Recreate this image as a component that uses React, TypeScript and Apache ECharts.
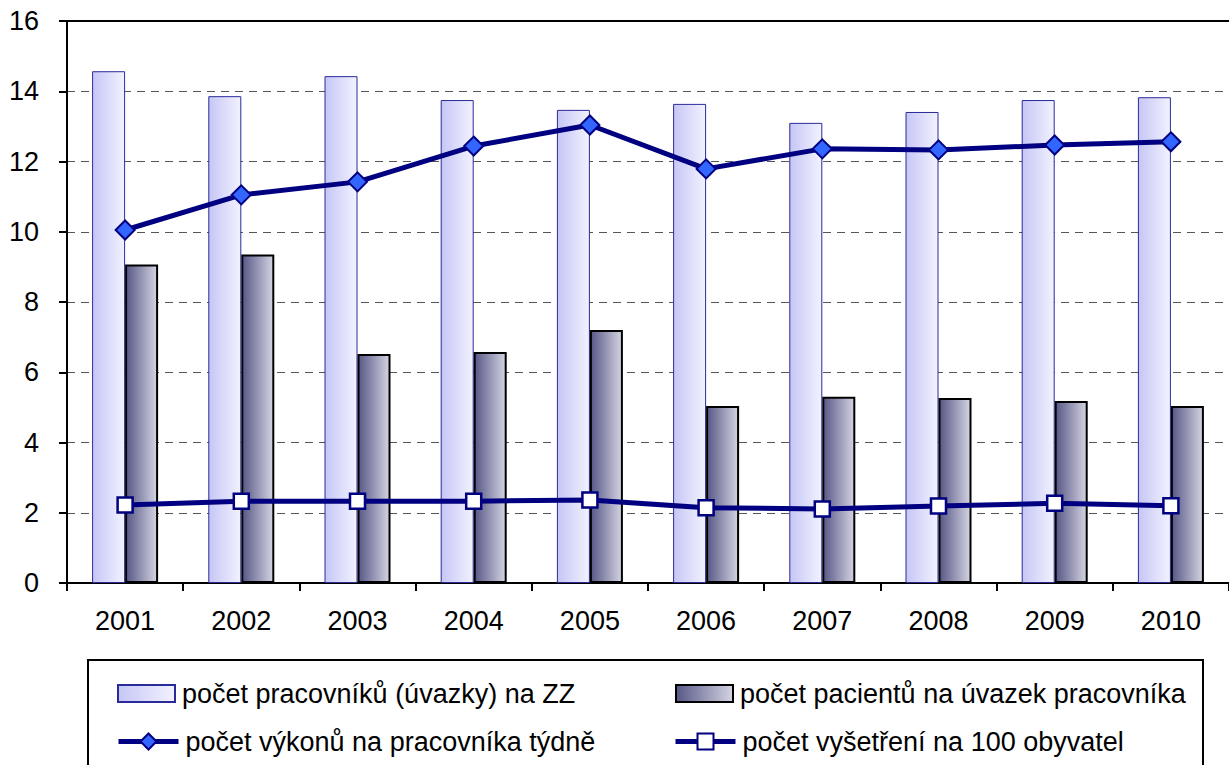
import React, { useEffect, useRef } from "react";
import * as echarts from "echarts";

const categories = ["2001", "2002", "2003", "2004", "2005", "2006", "2007", "2008", "2009", "2010"];
const workers = [14.57, 13.86, 14.43, 13.75, 13.47, 13.64, 13.1, 13.41, 13.75, 13.83];
const patients = [9.07, 9.35, 6.52, 6.58, 7.2, 5.04, 5.3, 5.27, 5.18, 5.04];
const procedures = [10.05, 11.05, 11.42, 12.44, 13.04, 11.79, 12.36, 12.33, 12.47, 12.56];
const exams = [2.22, 2.33, 2.33, 2.33, 2.36, 2.14, 2.11, 2.19, 2.27, 2.2];

const names = [
  "počet pracovníků (úvazky) na ZZ",
  "počet pacientů na úvazek pracovníka",
  "počet výkonů na pracovníka týdně",
  "počet vyšetření na 100 obyvatel",
];

const FONT = "'Liberation Sans', Arial, sans-serif";

export default function App() {
  const ref = useRef<HTMLDivElement>(null);
  useEffect(() => {
    if (!ref.current) return;
    const chart = echarts.init(ref.current, null, { renderer: "svg" });
    const lightGrad = new echarts.graphic.LinearGradient(0, 0, 1, 0, [
      { offset: 0, color: "#c6c6f6" },
      { offset: 1, color: "#f2f2ff" },
    ]);
    const darkGrad = new echarts.graphic.LinearGradient(0, 0, 1, 0, [
      { offset: 0, color: "#575787" },
      { offset: 1, color: "#d4d4e2" },
    ]);
    const legendText = { fontSize: 27, color: "#000", fontFamily: FONT, padding: [0, 0, 5, 2] };
    const barLegend = (name: string, left: number) => ({
      data: [{ name, icon: "rect" }],
      left,
      top: 680,
      itemWidth: 57,
      itemHeight: 17,
      textStyle: legendText,
      selectedMode: false,
      padding: 0,
    });
    const lineLegend = (name: string, left: number) => ({
      data: [name],
      left,
      top: 728,
      itemWidth: 60,
      itemHeight: 20,
      textStyle: legendText,
      selectedMode: false,
      padding: 0,
      lineStyle: { width: 5, color: "#000080" },
    });
    chart.setOption({
      animation: false,
      backgroundColor: "#fff",
      textStyle: { fontFamily: FONT },
      grid: { left: 67, top: 21, width: 1172, height: 562, containLabel: false },
      xAxis: [
        {
          type: "category",
          data: categories,
          position: "bottom",
          axisLine: { lineStyle: { color: "#000", width: 2 } },
          axisTick: { show: true, length: 8, lineStyle: { color: "#000", width: 2 } },
          axisLabel: { fontSize: 27, color: "#000", margin: 24, fontFamily: FONT },
          splitLine: { show: false },
        },
        {
          type: "category",
          data: categories,
          position: "top",
          axisLine: { show: true, lineStyle: { color: "#000", width: 2 } },
          axisTick: { show: false },
          axisLabel: { show: false },
        },
      ],
      yAxis: {
        type: "value",
        min: 0,
        max: 16,
        interval: 2,
        axisLine: { show: true, lineStyle: { color: "#000", width: 2 } },
        axisTick: { show: true, length: 8, lineStyle: { color: "#000", width: 2 } },
        axisLabel: { fontSize: 27, color: "#000", margin: 28, fontFamily: FONT },
        splitLine: { show: true, lineStyle: { color: "#555", width: 1, type: [8, 6] } },
      },
      legend: [
        barLegend(names[0], 117),
        barLegend(names[1], 675),
        lineLegend(names[2], 116),
        lineLegend(names[3], 673),
      ],
      graphic: [
        {
          type: "rect",
          shape: { x: 88, y: 660, width: 1115, height: 120 },
          style: { fill: "none", stroke: "#000", lineWidth: 2 },
          z: -1,
        },
      ],
      series: [
        {
          name: names[0],
          type: "bar",
          data: workers,
          barWidth: 33,
          barGap: "0%",
          itemStyle: { color: lightGrad, borderColor: "#2a2a9a", borderWidth: 1 },
          z: 2,
        },
        {
          name: names[1],
          type: "bar",
          data: patients,
          barWidth: 33,
          barGap: "0%",
          itemStyle: { color: darkGrad, borderColor: "#000", borderWidth: 2 },
          z: 2,
        },
        {
          name: names[2],
          type: "line",
          data: procedures,
          symbol: "diamond",
          symbolSize: 19,
          lineStyle: { color: "#000080", width: 5 },
          itemStyle: { color: "#3366ff", borderColor: "#000080", borderWidth: 2 },
          z: 5,
        },
        {
          name: names[3],
          type: "line",
          data: exams,
          symbol: "rect",
          symbolSize: 15,
          lineStyle: { color: "#000080", width: 5 },
          itemStyle: { color: "#fff", borderColor: "#000080", borderWidth: 2.5 },
          z: 5,
        },
      ],
    });
    return () => chart.dispose();
  }, []);
  return (
    <div
      ref={ref}
      style={{ position: "fixed", left: 0, top: 0, width: 1229, height: 765, background: "#fff" }}
    />
  );
}
